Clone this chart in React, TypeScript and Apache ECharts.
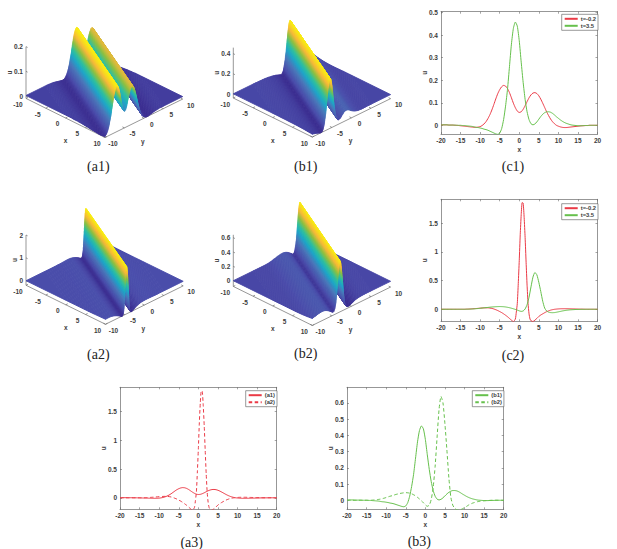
import React, { useEffect, useRef } from "react";
import * as echarts from "echarts";

// Sampling positions of the profiles
const xsWide = [-20,-19.5,-19,-18.5,-18,-17.5,-17,-16.5,-16,-15.5,-15,-14.5,-14,-13.5,-13,-12.5,-12,-11.5,-11,-10.5,-10,-9.5,-9,-8.5,-8,-7.5,-7,-6.5,-6,-5.5,-5,-4.5,-4,-3.5,-3,-2.5,-2,-1.5,-1,-0.5,0,0.5,1,1.5,2,2.5,3,3.5,4,4.5,5,5.5,6,6.5,7,7.5,8,8.5,9,9.5,10,10.5,11,11.5,12,12.5,13,13.5,14,14.5,15,15.5,16,16.5,17,17.5,18,18.5,19,19.5,20];
const xsNarrow = [-20,-19,-18,-17,-16,-15,-14,-13.5,-13,-12,-11,-10,-9,-8,-7,-6.5,-6,-5.5,-5,-4.5,-4,-3.5,-3,-2.5,-2,-1.5,-1,-0.75,-0.5,-0.25,0,0.25,0.5,0.75,1,1.25,1.5,1.75,2,2.25,2.5,2.75,3,3.5,4,4.5,5,5.5,6,6.5,7,7.5,8,8.5,9,9.5,10,10.5,11,11.5,12,12.5,13,13.5,14,14.5,15,15.5,16,16.5,17,18,19,20];

// u(x) at t=-0.2 and t=3.5 of the first solution (a1, b1)
const a1Values = [0.002,0.002,0.002,0.002,0.001,0.001,0.001,0,0,-0.001,-0.002,-0.003,-0.004,-0.005,-0.006,-0.007,-0.008,-0.009,-0.009,-0.008,-0.006,-0.001,0.006,0.016,0.03,0.047,0.068,0.092,0.117,0.14,0.158,0.171,0.177,0.174,0.163,0.145,0.122,0.098,0.078,0.063,0.057,0.06,0.071,0.087,0.105,0.122,0.135,0.143,0.145,0.141,0.131,0.116,0.098,0.079,0.06,0.043,0.028,0.016,0.007,0,-0.004,-0.007,-0.009,-0.01,-0.01,-0.009,-0.008,-0.007,-0.006,-0.005,-0.004,-0.003,-0.002,-0.002,-0.001,-0.001,0,0,0,0,0];
const b1Values = [0.002,0.002,0.002,0.002,0.001,0.001,0.001,0.001,0,0,0,-0.001,-0.001,-0.002,-0.003,-0.004,-0.005,-0.007,-0.009,-0.01,-0.012,-0.014,-0.017,-0.019,-0.022,-0.026,-0.03,-0.034,-0.038,-0.04,-0.035,-0.015,0.025,0.085,0.16,0.26,0.36,0.43,0.458,0.44,0.375,0.28,0.19,0.115,0.06,0.025,0.007,0.002,0.006,0.015,0.027,0.039,0.049,0.056,0.06,0.06,0.058,0.053,0.046,0.038,0.031,0.024,0.018,0.013,0.009,0.006,0.003,0.001,0,-0.001,-0.002,-0.002,-0.002,-0.001,-0.001,-0.001,0,0,0,0,0];
// u(x) at t=-0.2 and t=3.5 of the second solution (a2, b2)
const a2Values = [0,0,0,0,0,0,0,0.002,0.003,0.008,0.013,0.019,0.024,0.025,0.015,0.005,-0.008,-0.022,-0.04,-0.058,-0.08,-0.104,-0.13,-0.16,-0.19,-0.215,-0.17,-0.05,0.1,0.45,0.85,1.3,1.65,1.86,1.85,1.6,1.25,0.82,0.42,0.1,-0.08,-0.17,-0.2,-0.215,-0.19,-0.16,-0.125,-0.1,-0.08,-0.06,-0.042,-0.028,-0.016,-0.007,-0.001,0.003,0.006,0.008,0.009,0.009,0.009,0.008,0.007,0.006,0.005,0.004,0.003,0.002,0.002,0.001,0,0,0,0];
const b2Values = [0,0,0,0,0,0,0,0,0,0,0,0,0,0.001,0.002,0.003,0.005,0.007,0.01,0.013,0.017,0.021,0.025,0.028,0.032,0.036,0.039,0.042,0.044,0.046,0.047,0.046,0.044,0.04,0.034,0.027,0.018,0.008,-0.003,-0.015,-0.028,-0.037,-0.03,0.005,0.08,0.21,0.39,0.56,0.64,0.6,0.47,0.31,0.14,0.02,-0.03,-0.05,-0.058,-0.06,-0.058,-0.052,-0.045,-0.038,-0.03,-0.024,-0.018,-0.014,-0.01,-0.008,-0.006,-0.004,-0.003,-0.002,-0.001,-0.001,0,0,0,0,0,0,0];

const c1Ticks = [0,0.1,0.2,0.3,0.4,0.5];
const c2Ticks = [0,0.5,1,1.5];
const a3Ticks = [0,0.5,1,1.5];
const b3Ticks = [0,0.1,0.2,0.3,0.4,0.5,0.6];
const surfaceTicks = [-10,-5,0,5,10];

const RED = "#EA3A46";
const GREEN = "#66C04C";
const TEXT = "#3c3c3c";
const AXIS = "#6a6a6a";
const FONT = "Liberation Sans";

const pairs = (xs: number[], ys: number[]) => xs.map((x, i) => [x, ys[i]]);

const COLOR_STOPS: [number, number[]][] = [
  [0.0, [58, 44, 144]],
  [0.1, [74, 76, 170]],
  [0.3, [74, 120, 186]],
  [0.45, [30, 166, 200]],
  [0.58, [47, 191, 159]],
  [0.72, [143, 192, 64]],
  [0.85, [246, 184, 58]],
  [1.0, [248, 240, 16]],
];
function colorOf(t: number) {
  const v = Math.max(0, Math.min(1, t));
  for (let i = 1; i < COLOR_STOPS.length; i++) {
    const [p1, c1] = COLOR_STOPS[i];
    const [p0, c0] = COLOR_STOPS[i - 1];
    if (v <= p1) {
      const k = (v - p0) / (p1 - p0);
      return `rgb(${c0.map((c, j) => Math.round(c + (c1[j] - c) * k)).join(",")})`;
    }
  }
  return "rgb(248,240,16)";
}

type Panel = {
  xs: number[]; us: number[];
  ox: number; oy: number; // screen position of x=-10,y=-10,u=0
  ex: [number, number]; ey: [number, number]; zs: number;
  zLow: number; zTop: number; zTicks: number[]; uX: number;
};

const PANELS: Panel[] = [
  { xs: xsWide, us: a1Values, ox: 26, oy: 96, ex: [79, 39], ey: [77.7, -38.4], zs: 246.7, zLow: -0.01, zTop: 0.2, zTicks: [0, 0.1, 0.2], uX: 9 },
  { xs: xsWide, us: b1Values, ox: 233.3, oy: 94, ex: [79, 39], ey: [78.3, -38.4], zs: 100.8, zLow: -0.04, zTop: 0.46, zTicks: [0, 0.2, 0.4], uX: 216 },
  { xs: xsNarrow, us: a2Values, ox: 26, oy: 280.7, ex: [79.5, 39], ey: [77.7, -38.4], zs: 22.85, zLow: -0.2, zTop: 2, zTicks: [0, 1, 2], uX: 14.3 },
  { xs: xsWide, us: b2Values, ox: 233.3, oy: 280.7, ex: [79, 39], ey: [78.3, -38.4], zs: 71.7, zLow: -0.08, zTop: 0.64, zTicks: [0, 0.2, 0.4, 0.6], uX: 216 },
];

function clipHalf(poly: number[][], sign: number, lim: number) {
  // keeps the part of poly where sign*(x+2y) <= sign*lim
  const out: number[][] = [];
  for (let i = 0; i < poly.length; i++) {
    const a = poly[i], b = poly[(i + 1) % poly.length];
    const fa = sign * (a[0] + 2 * a[1] - lim), fb = sign * (b[0] + 2 * b[1] - lim);
    if (fa <= 0) out.push(a);
    if ((fa < 0 && fb > 0) || (fa > 0 && fb < 0)) {
      const k = fa / (fa - fb);
      out.push([a[0] + (b[0] - a[0]) * k, a[1] + (b[1] - a[1]) * k]);
    }
  }
  return out;
}

function surfaceItem(p: Panel) {
  const proj = (x: number, y: number, z: number) => [
    p.ox + ((x + 10) / 20) * p.ex[0] + ((y + 10) / 20) * p.ey[0],
    p.oy + ((x + 10) / 20) * p.ex[1] + ((y + 10) / 20) * p.ey[1] - z * p.zs,
  ];
  const children: any[] = [];
  const line = (a: number[], b: number[]) =>
    children.push({ type: "line", silent: true, shape: { x1: a[0], y1: a[1], x2: b[0], y2: b[1] }, style: { stroke: AXIS, lineWidth: 0.7 } });
  const text = (t: string, x: number, y: number, align: string, size = 6.5, rot = 0) =>
    children.push({ type: "text", silent: true, x, y, rotation: rot, style: { text: t, x: 0, y: 0, fill: TEXT, align, verticalAlign: "middle", font: `bold ${size}px "${FONT}"` } });

  // axes
  const zl = p.zLow;
  line(proj(-10, -10, zl), proj(-10, -10, p.zTop));
  line(proj(-10, -10, zl), proj(10, -10, zl));
  line(proj(10, -10, zl), proj(10, 10, zl));
  for (const t of surfaceTicks) {
    const a = proj(t, -10, zl), a2 = proj(t, -9.5, zl);
    line(a, a2);
    text(String(t), a[0] - 8, a[1] + 6, "center");
    const b = proj(10, t, zl), b2 = proj(9.5, t, zl);
    line(b, b2);
    text(String(t), b[0] + 8, b[1] + 6, "center");
  }
  for (const t of p.zTicks) {
    const a = proj(-10, -10, t);
    line(a, [a[0] + 1.6, a[1] + 0.8]);
    text(String(t), a[0] - 3, a[1], "right");
  }
  const mx = proj(0, -10, zl), my = proj(10, 0, zl);
  text("x", mx[0], mx[1] + 23, "center", 6.5);
  text("y", my[0] - 1, my[1] + 23, "center", 6.5);
  const zb = proj(-10, -10, zl), zt = proj(-10, -10, p.zTop);
  text("u", p.uX, (zb[1] + zt[1]) / 2, "center", 6.5, Math.PI / 2);

  // surface: u depends on x+2y only, strips drawn from far (high x+2y) to near
  const xi = [-30, ...p.xs, 30];
  const us = [p.us[0], ...p.us, p.us[p.us.length - 1]];
  const cmin = Math.min(...p.us), cmax = Math.max(...p.us);
  const square = [[-10, -10], [10, -10], [10, 10], [-10, 10]];
  for (let i = xi.length - 2; i >= 0; i--) {
    const n = Math.max(1, Math.min(14, Math.ceil((Math.abs(us[i + 1] - us[i]) / (cmax - cmin)) * 60)));
    for (let j = n - 1; j >= 0; j--) {
      const lo = xi[i] + ((xi[i + 1] - xi[i]) * j) / n;
      const hi = xi[i] + ((xi[i + 1] - xi[i]) * (j + 1)) / n;
      let poly = clipHalf(square, 1, hi);
      poly = clipHalf(poly, -1, lo);
      if (poly.length < 3) continue;
      const uAt = (s: number) => us[i] + ((us[i + 1] - us[i]) * (s - xi[i])) / (xi[i + 1] - xi[i]);
      const pts = poly.map((v) => proj(v[0], v[1], uAt(v[0] + 2 * v[1])));
      const col = colorOf((uAt((lo + hi) / 2) - cmin) / (cmax - cmin));
      children.push({ type: "polygon", silent: true, shape: { points: pts }, style: { fill: col, stroke: col, lineWidth: 0.9, lineJoin: "round" } });
    }
  }
  return { type: "group", children };
}

const CAPTIONS: [string, number, number][] = [
  ["(a1)", 98.3, 166], ["(b1)", 305.7, 166], ["(c1)", 513, 166],
  ["(a2)", 98.3, 354], ["(b2)", 305.7, 353.5], ["(c2)", 513, 355],
  ["(a3)", 191.7, 542], ["(b3)", 419.3, 541.5],
];

const GRIDS = [
  { left: 441, top: 11.7, w: 156.5, h: 122.3, yMin: -0.0386, yMax: 0.504, ticks: c1Ticks },
  { left: 441, top: 199.3, w: 156.5, h: 122, yMin: -0.21, yMax: 1.917, ticks: c2Ticks },
  { left: 120, top: 387.3, w: 156.7, h: 122, yMin: -0.2, yMax: 1.92, ticks: a3Ticks },
  { left: 347, top: 387.3, w: 156.7, h: 122, yMin: -0.0556, yMax: 0.696, ticks: b3Ticks },
];

const LEGENDS = [
  { left: 561.7, top: 14.3, names: ["t=-0.2", "t=3.5"] },
  { left: 561.7, top: 203.7, names: ["t=-0.2", "t=3.5"] },
  { left: 245.7, top: 390.7, names: ["(a1)", "(a2)"] },
  { left: 472.3, top: 390.7, names: ["(b1)", "(b2)"] },
];

function buildOption() {
  const labelStyle = { color: TEXT, fontSize: 6.5, fontWeight: "bold" as const, fontFamily: FONT };
  const tick = { show: true, inside: true, length: 2, lineStyle: { color: AXIS, width: 0.6 } };
  const axisLine = { show: true, onZero: false, lineStyle: { color: AXIS, width: 0.7 } };
  const xAxis: any[] = [], yAxis: any[] = [];
  GRIDS.forEach((g, i) => {
    xAxis.push({ type: "value", gridIndex: i, min: -20, max: 20, interval: 5, position: "bottom", splitLine: { show: false }, axisLine, axisTick: tick,
      axisLabel: { ...labelStyle, margin: 2.5, hideOverlap: false }, name: "x", nameLocation: "middle", nameGap: 12, nameMoveOverlap: false, nameTextStyle: labelStyle });
    xAxis.push({ type: "value", gridIndex: i, min: -20, max: 20, interval: 5, position: "top", splitLine: { show: false }, axisLine, axisTick: tick, axisLabel: { show: false } });
    yAxis.push({ type: "value", gridIndex: i, min: g.yMin, max: g.yMax, position: "left", splitLine: { show: false }, axisLine,
      axisTick: { ...tick, customValues: g.ticks },
      axisLabel: { ...labelStyle, margin: 3, customValues: g.ticks, hideOverlap: false }, name: "u", nameLocation: "middle", nameGap: 13, nameRotate: 90, nameMoveOverlap: false, nameTextStyle: labelStyle });
    yAxis.push({ type: "value", gridIndex: i, min: g.yMin, max: g.yMax, position: "right", splitLine: { show: false }, axisLine,
      axisTick: { ...tick, customValues: g.ticks }, axisLabel: { show: false } });
  });
  const lineSeries = (name: string, grid: number, xs: number[], ys: number[], color: string, type = "solid") => ({
    type: "line", name, xAxisIndex: grid * 2, yAxisIndex: grid * 2, data: pairs(xs, ys), showSymbol: false, symbol: "none", smooth: 0.2,
    lineStyle: { color, width: 1, type: type === "solid" ? "solid" : [3.5, 2.5] }, itemStyle: { color }, clip: true, silent: true, z: 3,
  });
  return {
    animation: false,
    backgroundColor: "#ffffff",
    grid: GRIDS.map((g) => ({ left: g.left, top: g.top, width: g.w, height: g.h, show: false })),
    xAxis,
    yAxis,
    legend: LEGENDS.map((l) => ({
      left: l.left, top: l.top, orient: "vertical", data: l.names, padding: [1.5, 2, 1.5, 2], itemGap: 1, itemWidth: 13, itemHeight: 5,
      borderColor: "#555", borderWidth: 0.6, backgroundColor: "#fff", selectedMode: false, z: 10,
      itemStyle: { opacity: 0 },
      textStyle: { ...labelStyle, fontSize: 5.8, padding: [0, 0, 0, -2] },
    })),
    series: [
      lineSeries("t=-0.2", 0, xsWide, a1Values, RED),
      lineSeries("t=3.5", 0, xsWide, b1Values, GREEN),
      lineSeries("t=-0.2", 1, xsNarrow, a2Values, RED),
      lineSeries("t=3.5", 1, xsWide, b2Values, GREEN),
      lineSeries("(a1)", 2, xsWide, a1Values, RED),
      lineSeries("(a2)", 2, xsNarrow, a2Values, RED, "dashed"),
      lineSeries("(b1)", 3, xsWide, b1Values, GREEN),
      lineSeries("(b2)", 3, xsWide, b2Values, GREEN, "dashed"),
      ...PANELS.map((p) => ({
        type: "custom", coordinateSystem: "none", silent: true, data: [[0]],
        renderItem: () => surfaceItem(p),
      })),
    ],
    graphic: CAPTIONS.map(([t, x, y]) => ({
      type: "text", silent: true, x, y,
      style: { text: t, x: 0, y: 0, fill: "#222", align: "center", verticalAlign: "middle", font: '14px "Liberation Serif"' },
    })),
  };
}

export default function App() {
  const ref = useRef<HTMLDivElement>(null);
  useEffect(() => {
    document.body.style.margin = "0";
    const chart = echarts.init(ref.current!, undefined, { renderer: "svg" });
    chart.setOption(buildOption() as any);
    return () => chart.dispose();
  }, []);
  return <div ref={ref} style={{ width: 617, height: 549 }} />;
}
